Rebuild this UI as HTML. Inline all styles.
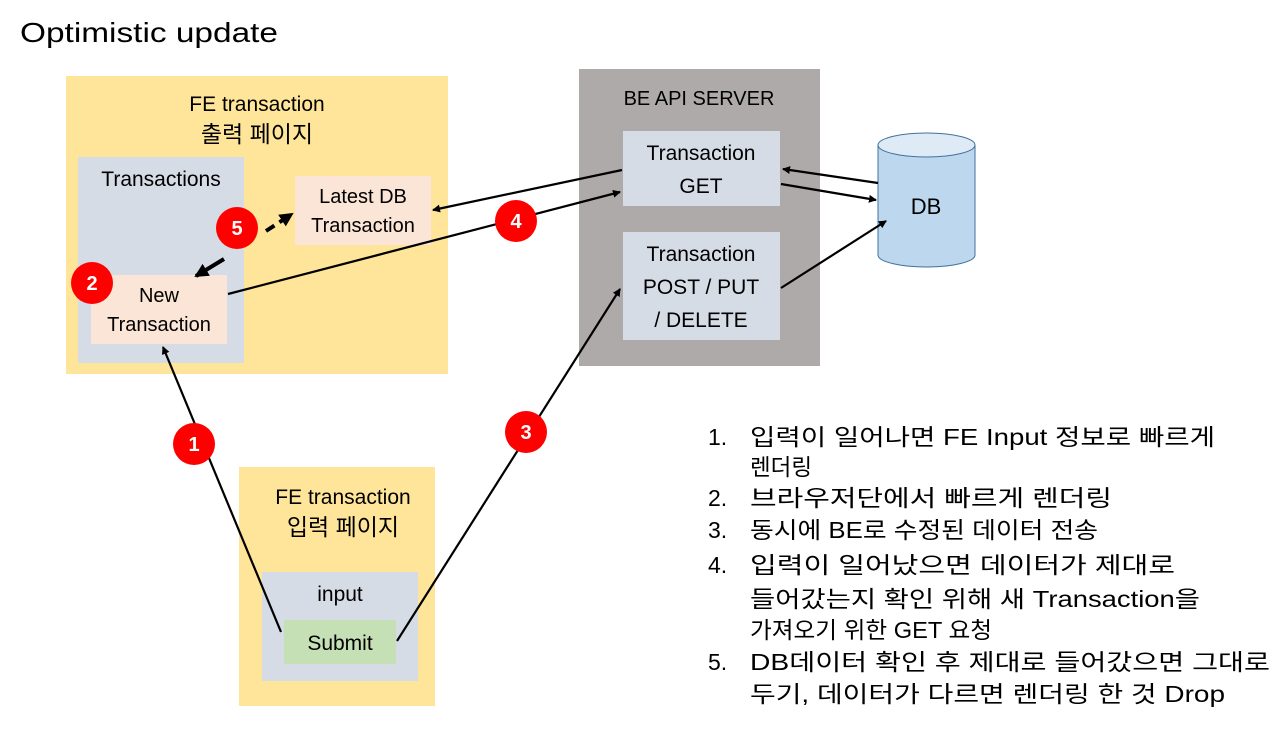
<!DOCTYPE html>
<html><head><meta charset="utf-8"><style>
body{margin:0;background:#fff;}
svg text{font-family:"Liberation Sans","Noto Sans CJK KR",sans-serif;fill:#000;}
</style></head><body>
<svg width="1288" height="751" xmlns="http://www.w3.org/2000/svg">
<defs>
<marker id="a" markerWidth="8" markerHeight="8" refX="7" refY="4" orient="auto" markerUnits="userSpaceOnUse" viewBox="0 0 8 8"><path d="M0,0 L8,4 L0,8 Z" fill="#000"/></marker>
<marker id="b" markerWidth="14" markerHeight="14" refX="12" refY="7" orient="auto" markerUnits="userSpaceOnUse" viewBox="0 0 14 14"><path d="M0,0 L14,7 L0,14 Z" fill="#000"/></marker>
</defs>
<text x="20" y="42" font-size="28" textLength="258" lengthAdjust="spacingAndGlyphs">Optimistic update</text>

<rect x="66" y="76" width="382" height="298" fill="#fee599"/>
<text x="257" y="111" font-size="21" text-anchor="middle">FE transaction</text>
<text x="257" y="142" font-size="23" text-anchor="middle">출력 페이지</text>
<rect x="78" y="157" width="166" height="206" fill="#d6dce5"/>
<text x="161" y="186" font-size="21" text-anchor="middle">Transactions</text>
<rect x="295" y="176" width="136" height="69" fill="#fbe5d6"/>
<text x="363" y="203" font-size="20" text-anchor="middle">Latest DB</text>
<text x="363" y="232" font-size="20" text-anchor="middle">Transaction</text>
<rect x="91" y="275" width="136" height="69" fill="#fbe5d6"/>
<text x="159" y="302" font-size="20" text-anchor="middle">New</text>
<text x="159" y="331" font-size="20" text-anchor="middle">Transaction</text>

<rect x="579" y="69" width="241" height="297" fill="#aeaaaa"/>
<text x="699" y="105" font-size="20" text-anchor="middle">BE API SERVER</text>
<rect x="623" y="131" width="157" height="75" fill="#d6dce5"/>
<text x="701" y="160" font-size="21" text-anchor="middle">Transaction</text>
<text x="701" y="193" font-size="21" text-anchor="middle">GET</text>
<rect x="623" y="232" width="157" height="108" fill="#d6dce5"/>
<text x="701" y="261" font-size="21" text-anchor="middle">Transaction</text>
<text x="701" y="294" font-size="21" text-anchor="middle">POST / PUT</text>
<text x="701" y="327" font-size="21" text-anchor="middle">/ DELETE</text>

<path d="M878,145 L878,255 A48.5,12 0 0 0 975,255 L975,145" fill="#bdd7ee" stroke="#41719c" stroke-width="1"/>
<ellipse cx="926.5" cy="145" rx="48.5" ry="12" fill="#deebf7" stroke="#41719c" stroke-width="1"/>
<text x="926" y="214" font-size="22" text-anchor="middle">DB</text>

<rect x="239" y="467" width="196" height="239" fill="#fee599"/>
<text x="343" y="504" font-size="21" text-anchor="middle">FE transaction</text>
<text x="343" y="535" font-size="23" text-anchor="middle">입력 페이지</text>
<rect x="262" y="572" width="156" height="109" fill="#d6dce5"/>
<text x="340" y="601" font-size="21" text-anchor="middle">input</text>
<rect x="284" y="620" width="112" height="44" fill="#c5e0b4"/>
<text x="340" y="650" font-size="21" text-anchor="middle">Submit</text>

<g stroke="#000" stroke-width="2.2" fill="none">
<line x1="622" y1="170" x2="433" y2="210" marker-end="url(#a)"/>
<line x1="228" y1="294" x2="620" y2="192" marker-end="url(#a)"/>
<line x1="878" y1="183" x2="783" y2="169" marker-end="url(#a)"/>
<line x1="781" y1="184" x2="876" y2="200" marker-end="url(#a)"/>
<line x1="781" y1="288" x2="886" y2="221" marker-end="url(#a)"/>
<line x1="397" y1="641" x2="620" y2="289" marker-end="url(#a)"/>
<line x1="281" y1="632" x2="163" y2="347" marker-end="url(#a)"/>
</g>
<g stroke="#000" stroke-width="4" fill="none">
<line x1="266" y1="231" x2="292" y2="214" stroke-dasharray="10,6" marker-end="url(#b)"/>
<line x1="224" y1="259" x2="196" y2="276" marker-end="url(#b)"/>
</g>

<g font-size="20" font-weight="bold">
<circle cx="237" cy="228" r="21" fill="#f00"/><text x="237" y="235" text-anchor="middle" style="fill:#fff">5</text>
<circle cx="92" cy="283" r="21" fill="#f00"/><text x="92" y="290" text-anchor="middle" style="fill:#fff">2</text>
<circle cx="516" cy="221" r="21" fill="#f00"/><text x="516" y="228" text-anchor="middle" style="fill:#fff">4</text>
<circle cx="526" cy="432" r="21" fill="#f00"/><text x="526" y="439" text-anchor="middle" style="fill:#fff">3</text>
<circle cx="194" cy="444" r="21" fill="#f00"/><text x="194" y="451" text-anchor="middle" style="fill:#fff">1</text>
</g>

<g font-size="23">
<text x="708" y="445">1.</text>
<text x="750" y="445" textLength="465" lengthAdjust="spacingAndGlyphs">입력이 일어나면 FE Input 정보로 빠르게</text>
<text x="750" y="475" textLength="62" lengthAdjust="spacingAndGlyphs">렌더링</text>
<text x="708" y="506">2.</text>
<text x="750" y="506" textLength="362" lengthAdjust="spacingAndGlyphs">브라우저단에서 빠르게 렌더링</text>
<text x="708" y="538">3.</text>
<text x="750" y="538" textLength="348" lengthAdjust="spacingAndGlyphs">동시에 BE로 수정된 데이터 전송</text>
<text x="708" y="573">4.</text>
<text x="750" y="573" textLength="425" lengthAdjust="spacingAndGlyphs">입력이 일어났으면 데이터가 제대로</text>
<text x="750" y="607" textLength="450" lengthAdjust="spacingAndGlyphs">들어갔는지 확인 위해 새 Transaction을</text>
<text x="750" y="638" textLength="242" lengthAdjust="spacingAndGlyphs">가져오기 위한 GET 요청</text>
<text x="708" y="670">5.</text>
<text x="750" y="670" textLength="520" lengthAdjust="spacingAndGlyphs">DB데이터 확인 후 제대로 들어갔으면 그대로</text>
<text x="750" y="702" textLength="475" lengthAdjust="spacingAndGlyphs">두기, 데이터가 다르면 렌더링 한 것 Drop</text>
</g>
</svg>
</body></html>
